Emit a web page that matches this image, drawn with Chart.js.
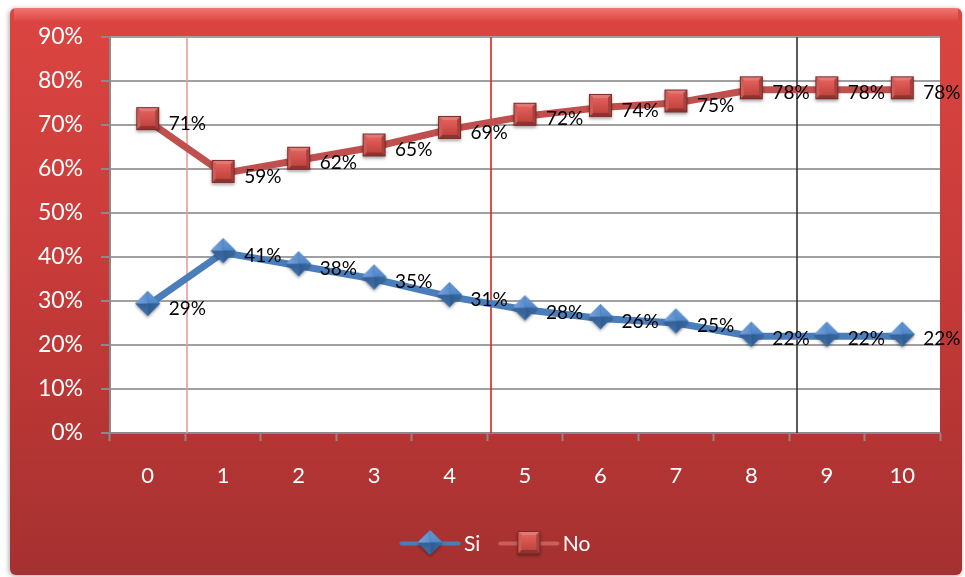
<!DOCTYPE html>
<html>
<head>
<meta charset="utf-8">
<script src="https://cdn.jsdelivr.net/npm/chart.js@4/dist/chart.umd.min.js"></script>
<style>
  html, body { margin: 0; padding: 0; background: #fff; }
  #wrap { width: 965px; height: 577px; }
</style>
</head>
<body>
<div id="wrap"><canvas id="chart" width="965" height="577"></canvas></div>
<script>
const categories = ["0", "1", "2", "3", "4", "5", "6", "7", "8", "9", "10"];
const siValues = [29, 41, 38, 35, 31, 28, 26, 25, 22, 22, 22];
const noValues = [71, 59, 62, 65, 69, 72, 74, 75, 78, 78, 78];
const yTicks = [0, 10, 20, 30, 40, 50, 60, 70, 80, 90];

const BLUE = "#4a7ebb";
const RED = "#c0504d";
const FONT = "Lato, 'Open Sans', sans-serif";

// bevelled marker images
function diamondMarker(size) {
  const c = document.createElement("canvas");
  c.width = size + 6; c.height = size + 8;
  const g = c.getContext("2d");
  const cx = c.width / 2, cy = size / 2 + 2, r = size / 2;
  g.shadowColor = "rgba(0,0,0,0.35)";
  g.shadowBlur = 3; g.shadowOffsetY = 2;
  g.beginPath();
  g.moveTo(cx, cy - r); g.lineTo(cx + r, cy); g.lineTo(cx, cy + r); g.lineTo(cx - r, cy);
  g.closePath();
  g.fillStyle = "#3d6ea8"; g.fill();
  g.shadowColor = "transparent";
  const facets = [
    [[cx, cy - r], [cx + r, cy], ["#6b9ad6", "#4f86c6"]],
    [[cx + r, cy], [cx, cy + r], ["#3a6aa2", "#2f5d92"]],
    [[cx, cy + r], [cx - r, cy], ["#3f72ae", "#355f96"]],
    [[cx - r, cy], [cx, cy - r], ["#79a6df", "#5a8ecd"]]
  ];
  facets.forEach(([a, b, cols]) => {
    const gr = g.createLinearGradient(a[0], a[1], cx, cy);
    gr.addColorStop(0, cols[0]); gr.addColorStop(1, cols[1]);
    g.beginPath(); g.moveTo(a[0], a[1]); g.lineTo(b[0], b[1]); g.lineTo(cx, cy); g.closePath();
    g.fillStyle = gr; g.fill();
  });
  return c;
}

function squareMarker(size) {
  const c = document.createElement("canvas");
  c.width = size + 6; c.height = size + 8;
  const g = c.getContext("2d");
  const x0 = 3, y0 = 2, s = size;
  g.shadowColor = "rgba(0,0,0,0.35)";
  g.shadowBlur = 3; g.shadowOffsetY = 2;
  g.fillStyle = "#a73c39";
  g.fillRect(x0, y0, s, s);
  g.shadowColor = "transparent";
  const cx = x0 + s / 2, cy = y0 + s / 2, b = 4;
  const tris = [
    [[x0, y0], [x0 + s, y0], "#e07a76"],
    [[x0 + s, y0], [x0 + s, y0 + s], "#a8403d"],
    [[x0 + s, y0 + s], [x0, y0 + s], "#8f3331"],
    [[x0, y0 + s], [x0, y0], "#cf5c58"]
  ];
  tris.forEach(([a, bb, col]) => {
    g.beginPath(); g.moveTo(a[0], a[1]); g.lineTo(bb[0], bb[1]); g.lineTo(cx, cy); g.closePath();
    g.fillStyle = col; g.fill();
  });
  const gr = g.createLinearGradient(0, y0 + b, 0, y0 + s - b);
  gr.addColorStop(0, "#e4605b"); gr.addColorStop(1, "#c0443f");
  g.fillStyle = gr;
  g.fillRect(x0 + b, y0 + b, s - 2 * b, s - 2 * b);
  g.strokeStyle = "#7d2a28"; g.lineWidth = 1;
  g.strokeRect(x0 + 0.5, y0 + 0.5, s - 1, s - 1);
  return c;
}

// legend swatch: short line with the marker on it, padded on the left
function legendIcon(marker, color, alpha) {
  const c = document.createElement("canvas");
  c.width = 76; c.height = marker.height;
  const g = c.getContext("2d");
  g.globalAlpha = alpha;
  g.strokeStyle = color; g.lineWidth = 4; g.lineCap = "round";
  g.beginPath(); g.moveTo(16, c.height / 2 - 1); g.lineTo(73, c.height / 2 - 1); g.stroke();
  g.globalAlpha = 1;
  g.drawImage(marker, 44.5 - marker.width / 2, 0);
  return c;
}

const siMarker = diamondMarker(25);
const noMarker = squareMarker(23);

// red panel behind the chart, white plot area
const panelPlugin = {
  id: "panel",
  beforeDraw(chart) {
    const { ctx, chartArea: a } = chart;
    ctx.save();
    ctx.fillStyle = "#fff";
    ctx.fillRect(0, 0, chart.width, chart.height);
    const x = 10, y = 8, w = chart.width - 13, h = chart.height - 10;
    ctx.shadowColor = "rgba(0,0,0,0.35)";
    ctx.shadowBlur = 5; ctx.shadowOffsetX = -1; ctx.shadowOffsetY = 1;
    const grad = ctx.createLinearGradient(0, y, 0, y + h);
    grad.addColorStop(0, "#dc4541");
    grad.addColorStop(0.5, "#c53a38");
    grad.addColorStop(1, "#a53130");
    ctx.fillStyle = grad;
    ctx.beginPath();
    ctx.roundRect(x, y, w, h, 6);
    ctx.fill();
    ctx.shadowColor = "transparent";
    const top = ctx.createLinearGradient(0, y, 0, y + 14);
    top.addColorStop(0, "rgba(255,150,145,0.6)");
    top.addColorStop(1, "rgba(255,150,145,0)");
    ctx.fillStyle = top;
    ctx.fillRect(x + 4, y, w - 8, 14);
    ctx.fillStyle = "#fff";
    ctx.fillRect(a.left, a.top, a.right - a.left, a.bottom - a.top);
    ctx.restore();
  },
  afterLayout(chart) {
    // legend sits a little right of centre
    chart.legend.left += 17;
    chart.legend.right += 17;
  }
};

// thin coloured separators between some categories: [color, nudge]
const sepStyles = { 1: ["#e89c9c", 2], 5: ["#e02020", 4], 9: ["#333333", 8] };
const separators = {
  id: "separators",
  beforeDatasetsDraw(chart) {
    const { ctx, chartArea: a, scales: { x } } = chart;
    ctx.save();
    ctx.lineWidth = 1.6;
    Object.keys(sepStyles).forEach(k => {
      const i = +k;
      const [col, nudge] = sepStyles[k];
      const px = Math.round((x.getPixelForValue(i - 1) + x.getPixelForValue(i)) / 2) + nudge;
      ctx.strokeStyle = col;
      ctx.beginPath();
      ctx.moveTo(px, a.top);
      ctx.lineTo(px, a.bottom);
      ctx.stroke();
    });
    ctx.restore();
  }
};

// percentage labels to the right of each point
const valueLabels = {
  id: "valueLabels",
  afterDatasetsDraw(chart) {
    const ctx = chart.ctx;
    ctx.save();
    ctx.font = "19px " + FONT;
    ctx.fillStyle = "#000";
    ctx.textAlign = "left";
    ctx.textBaseline = "middle";
    chart.data.datasets.forEach((ds, i) => {
      chart.getDatasetMeta(i).data.forEach((pt, j) => {
        ctx.fillText(ds.data[j] + "%", pt.x + 21, pt.y + 3);
      });
    });
    ctx.restore();
  }
};

new Chart(document.getElementById("chart"), {
  type: "line",
  data: {
    labels: categories,
    datasets: [
      {
        label: "Si",
        data: siValues,
        borderColor: BLUE,
        borderWidth: 7,
        pointStyle: siMarker,
        pointRadius: 13,
        tension: 0
      },
      {
        label: "No",
        data: noValues,
        borderColor: RED,
        borderWidth: 7,
        pointStyle: noMarker,
        pointRadius: 12,
        tension: 0
      }
    ]
  },
  options: {
    responsive: false,
    animation: false,
    layout: { padding: { left: 10, top: 37, right: 25, bottom: 12 } },
    plugins: {
      tooltip: { enabled: false },
      legend: {
        position: "bottom",
        labels: {
          color: "#fff",
          font: { size: 21, family: FONT },
          usePointStyle: true,
          pointStyleWidth: 60,
          padding: 12,
          generateLabels() {
            return [
              { text: "Si", pointStyle: legendIcon(siMarker, BLUE, 1), fontColor: "#fff", datasetIndex: 0 },
              { text: "No", pointStyle: legendIcon(noMarker, "#d06a67", 0.8), fontColor: "#fff", datasetIndex: 1 }
            ];
          }
        }
      }
    },
    scales: {
      x: {
        offset: true,
        afterFit(s) { s.height = 89; },
        grid: {
          offset: true,
          tickLength: 8,
          drawOnChartArea: false,
          tickColor: "#8a8a8a",
          tickWidth: 2
        },
        border: { color: "#8a8a8a", width: 2 },
        ticks: { color: "#fff", font: { size: 22, family: FONT }, padding: 22 }
      },
      y: {
        min: 0,
        max: 90,
        afterFit(s) { s.width = 100; },
        afterBuildTicks(s) { s.ticks = yTicks.map(v => ({ value: v })); },
        grid: { color: "#a0a0a0", lineWidth: 2, tickLength: 9, tickColor: "#8a8a8a" },
        border: { color: "#8a8a8a", width: 2 },
        ticks: {
          color: "#fff",
          font: { size: 23, family: FONT },
          padding: 18,
          callback: v => v + "%"
        }
      }
    }
  },
  plugins: [panelPlugin, separators, valueLabels]
});
</script>
</body>
</html>
